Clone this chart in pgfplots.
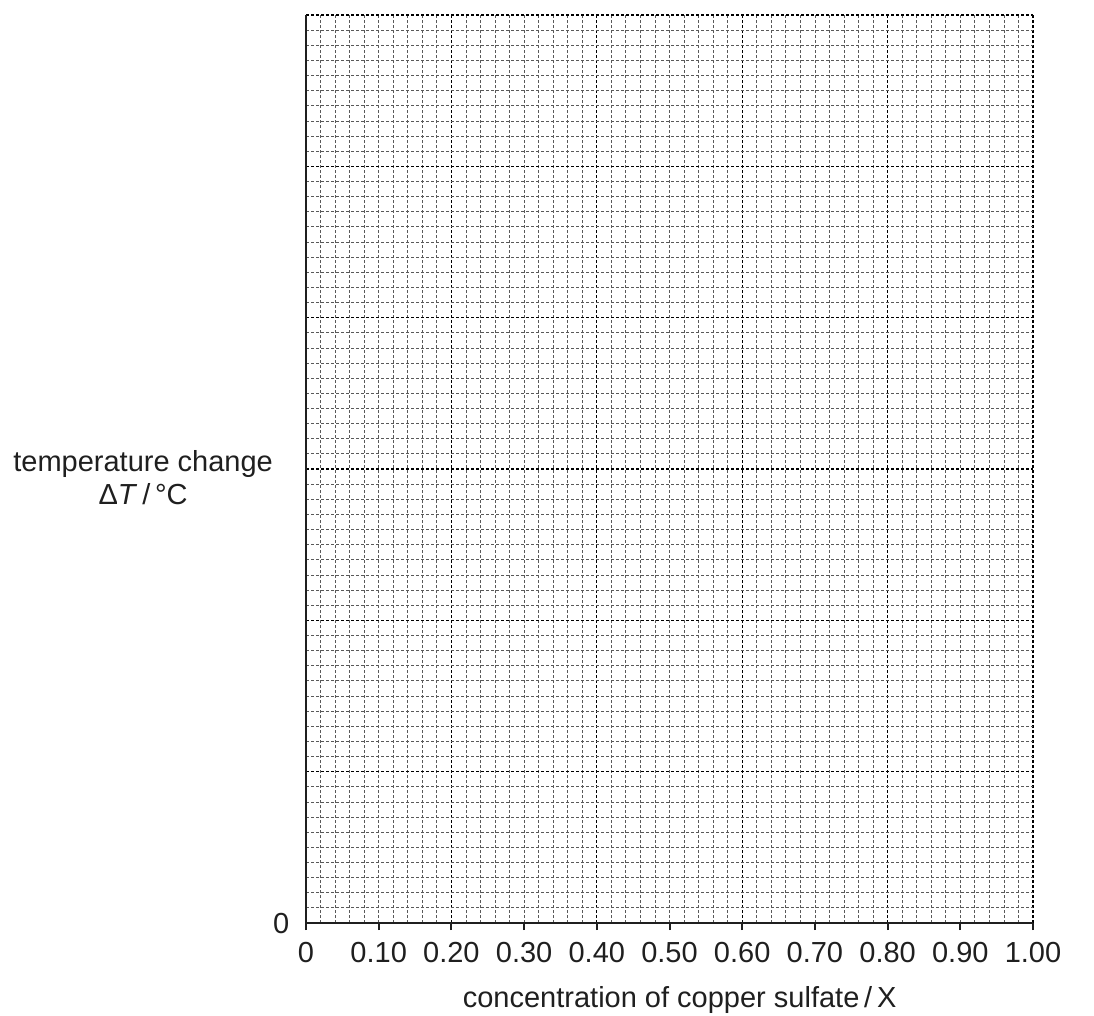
\documentclass[border=0pt]{standalone}
\usepackage{fontspec}
\setmainfont{Liberation Sans}
\usepackage{pgfplots}
\pgfplotsset{compat=1.18}
\begin{document}
\fontsize{29}{33}\selectfont
\begin{tikzpicture}
  \useasboundingbox (0,0) rectangle (1094pt,-1015pt);
  \begin{axis}[
    at={(306pt,-923pt)}, anchor=south west,
    scale only axis,
    width=727pt, height=908pt,
    xmin=0, xmax=1, ymin=0, ymax=6,
    axis x line=bottom, axis y line=left,
    axis line style={-, line width=2.2pt, black!88},
    xtick={0,0.2,0.4,0.6,0.8,1.0},
    xticklabels={0,0.20,0.40,0.60,0.80,1.00},
    minor x tick num=9,
    extra x ticks={0.1,0.3,0.5,0.7,0.9},
    extra x tick labels={0.10,0.30,0.50,0.70,0.90},
    extra x tick style={grid=none},
    ytick={0,1,2,3,4,5,6},
    yticklabels={0,{},{},{},{},{},{}},
    minor y tick num=9,
    tick align=outside,
    xmajorgrids=true, xminorgrids=true,
    ymajorgrids=true, yminorgrids=true,
    minor tick length=0pt,
    x tick style={line width=2pt, black!88},
    y tick style={draw=none},
    major tick length=7pt,
    minor grid style={black!65, line width=0.8pt, dash pattern=on 3pt off 2pt},
    major grid style={black, line width=1.1pt, dash pattern=on 3pt off 2pt},
    tick label style={font=\fontsize{29}{33}\selectfont, text=black!88},
    xticklabel style={yshift=-2pt},
    xlabel={concentration of copper sulfate\,/\,X},
    xlabel style={font=\fontsize{29}{33}\selectfont, text=black!88, anchor=base,
      at={(axis description cs:0.514,-0.0925)}},
    ylabel={temperature change\\Δ\textit{T}\,/\,°C},
    ylabel style={font=\fontsize{29}{33}\selectfont, text=black!88, rotate=-90,
      align=center, anchor=center, at={(axis description cs:-0.224,0.49)}},
  ]
  \end{axis}
\end{tikzpicture}
\end{document}
